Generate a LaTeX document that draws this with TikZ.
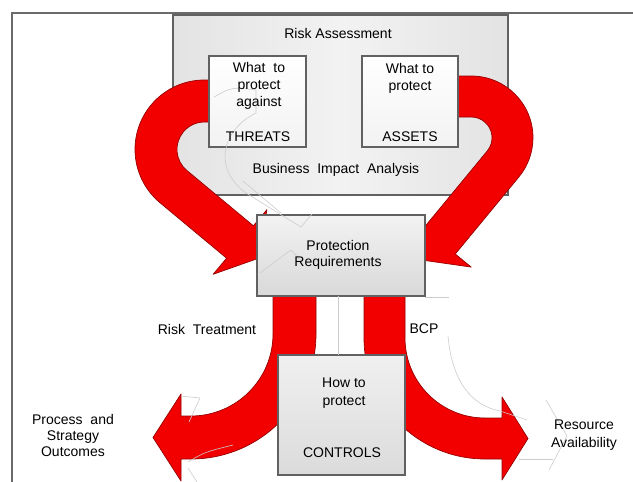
\documentclass[tikz,border=0pt]{standalone}
\usepackage{fontspec}
\setmainfont{Liberation Sans}
\begin{document}
\begin{tikzpicture}[x=1pt,y=-1pt,
  redarrow/.style={fill={rgb,255:red,242;green,0;blue,0},
    draw={rgb,255:red,150;green,0;blue,0}, line width=0.7pt, line join=round},
  panel/.style={draw=black!62, line width=1.1pt, inner sep=0pt},
  ghost/.style={draw=black!20, line width=0.6pt, line join=round},
  lbl/.style={font=\fontsize{14}{17}\selectfont, align=center, inner sep=0pt, text=black}]

\useasboundingbox (0,0) rectangle (633,482);

% outer frame
\draw[black!58, line width=2pt] (12,482) -- (12,13) -- (633,13);

% risk assessment panel
\node[panel, minimum width=335pt, minimum height=180pt,
  left color=black!11, right color=black!11, middle color=black!5] (risk) at (340.5,105) {};

% upper arrows: threats and assets into protection requirements
\path[redarrow] (216,80) -- (204.4,80) arc[start angle=270,end angle=129.7,radius=69.4]
  -- (226.6,258.2) -- (213.1,274.3) -- (259.3,258) -- (266.9,209.7) -- (253.4,225.8)
  -- (186.9,170.5) arc[start angle=129.7,end angle=270,radius=27.4] -- (216,122) -- cycle;
\path[redarrow] (452,76) -- (471.3,76) arc[start angle=-90,end angle=39.5,radius=61.7]
  -- (455.3,254) -- (471.2,267.1) -- (423.6,260.3) -- (407.8,214.9) -- (423.7,228)
  -- (487.3,150.9) arc[start angle=39.5,end angle=-90,radius=20.7] -- (452,117) -- cycle;

% lower arrows: risk treatment and BCP
\path[redarrow] (273,290) -- (273,334) arc[start angle=0,end angle=90,radius=82]
  -- (181,416) -- (181,394) -- (153,437.5) -- (181,481) -- (181,459) -- (191,459)
  arc[start angle=90,end angle=0,radius=125] -- (316,290) -- cycle;
\path[redarrow] (405,290) -- (405,338) arc[start angle=180,end angle=90,radius=80]
  -- (502,418) -- (502,397) -- (528,438.5) -- (502,480) -- (502,459) -- (485,459)
  arc[start angle=90,end angle=180,radius=121] -- (364,290) -- cycle;

% inner panels
\node[panel, minimum width=97pt, minimum height=91pt, top color=white, bottom color=black!5] (threats) at (257.5,101.5) {};
\node[panel, minimum width=96pt, minimum height=91pt, top color=white, bottom color=black!5] (assets) at (410,101.5) {};
\node[panel, minimum width=168pt, minimum height=81pt, top color=black!5, bottom color=black!15] (protreq) at (341,255.5) {};
\node[panel, minimum width=127pt, minimum height=120pt, top color=black!6, bottom color=black!14] (controls) at (341.5,415) {};

% faint background outlines
\draw[ghost] (214,97) .. controls (232,87) .. (256,90) -- (256,113)
  .. controls (222,130) and (212,168) .. (246,193) -- (283,216) -- (301,227) -- (312,214);
\draw[ghost] (243,181) -- (281,213);
\draw[ghost] (260,273) -- (291,250) -- (302,262);
\draw[ghost] (338,296) -- (338,355);
\draw[ghost] (425,297) -- (449,297);
\draw[ghost] (448,336) .. controls (452,380) and (470,405) .. (500,411) -- (527,420);
\draw[ghost] (546,400) -- (567,436) -- (549,470);
\draw[ghost] (519,459) -- (553,459);
\draw[ghost] (181,396) -- (200,398) -- (189,422);
\draw[ghost] (188,462) .. controls (205,452) .. (233,445);
\draw[ghost] (188,468) -- (197,482);

% labels
\node[lbl] (tRisk) at (338,33) {Risk Assessment};
\node[lbl] (tWhatA) at (259,86) {What~~to\\protect\\against};
\node[lbl] (tThreats) at (258,137) {THREATS};
\node[lbl] (tWhatB) at (410,78.5) {What to\\protect};
\node[lbl] (tAssets) at (410,137) {ASSETS};
\node[lbl] (tBia) at (336,170) {Business~ Impact~ Analysis};
\node[lbl, font=\fontsize{14}{16}\selectfont] (tProt) at (338,255) {Protection\\Requirements};
\node[lbl] (tTreat) at (207,329) {Risk~ Treatment};
\node[lbl] (tBcp) at (424,329) {BCP};
\node[lbl, font=\fontsize{14}{18}\selectfont] (tHow) at (344,393) {How to\\protect};
\node[lbl] (tCtrl) at (342,453) {CONTROLS};
\node[lbl, font=\fontsize{14}{16}\selectfont] (tProc) at (73,435) {Process~ and\\Strategy\\Outcomes};
\node[lbl, font=\fontsize{14}{18}\selectfont] (tRes) at (584,435) {Resource\\Availability};

\end{tikzpicture}
\end{document}
